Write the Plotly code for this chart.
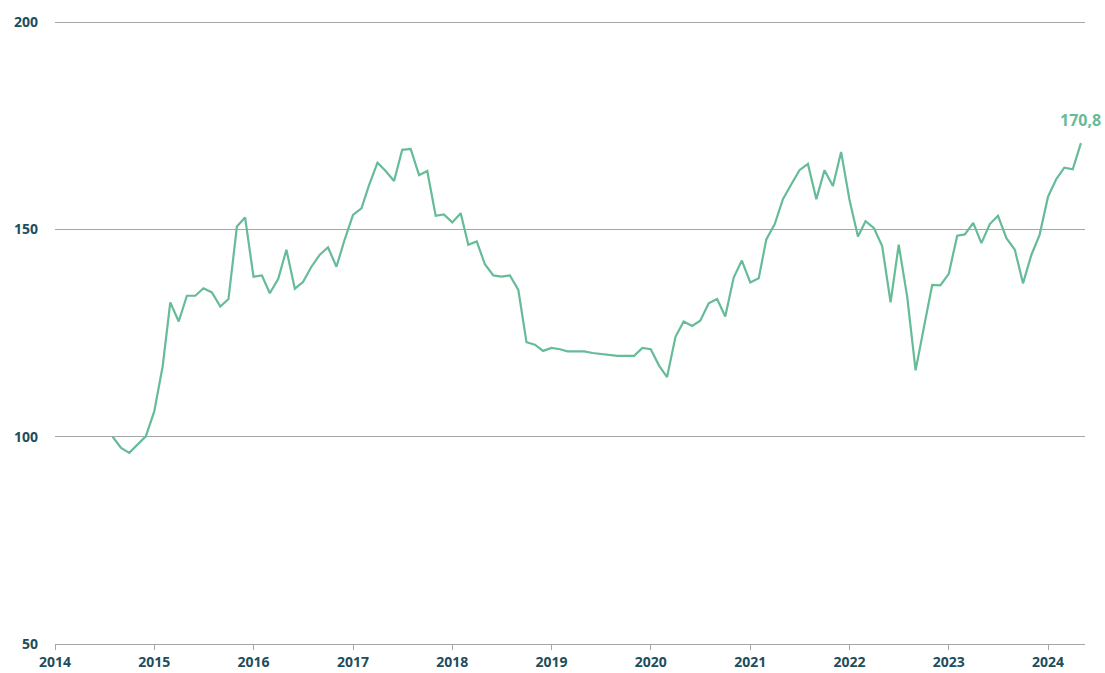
import pandas as pd
import plotly.graph_objects as go

start_month = "2014-08-01"
values = [
    100.0, 97.3, 96.1, 98.1, 100.1, 106.1, 117.0, 132.4, 127.8, 134.0,
    134.0, 135.8, 134.8, 131.4, 133.2, 150.7, 152.9, 138.6, 138.9, 134.6,
    138.1, 145.1, 135.7, 137.3, 141.0, 143.9, 145.7, 141.0, 147.5, 153.5,
    155.1, 160.7, 166.1, 164.1, 161.7, 169.2, 169.4, 163.1, 164.1, 153.3,
    153.6, 151.7, 153.9, 146.3, 147.1, 141.6, 138.9, 138.6, 138.9, 135.4,
    122.8, 122.2, 120.7, 121.4, 121.1, 120.6, 120.6, 120.6, 120.2, 120.0,
    119.8, 119.5, 119.5, 119.5, 121.4, 121.1, 117.1, 114.4, 124.1, 127.8,
    126.7, 128.0, 132.2, 133.2, 129.0, 138.4, 142.5, 137.2, 138.2, 147.6,
    151.3, 157.3, 160.9, 164.3, 165.8, 157.3, 164.3, 160.5, 168.7, 157.1,
    148.3, 152.0, 150.3, 146.0, 132.4, 146.3, 133.8, 116.0, 126.2, 136.6,
    136.5, 139.3, 148.5, 148.8, 151.6, 146.7, 151.3, 153.3, 147.9, 145.1,
    137.0, 143.9, 148.7, 157.9, 162.2, 164.9, 164.5, 170.8,
]
dates = pd.date_range(start_month, periods=len(values), freq="MS")

year_ticks = [f"{y}-01-01" for y in range(2014, 2025)]
year_labels = [str(y) for y in range(2014, 2025)]
y_ticks = [50, 100, 150, 200]

line_color = "#66bb98"
text_color = "#1e4d5c"
grid_color = "#a6a6a6"

fig = go.Figure()
fig.add_trace(go.Scatter(
    x=dates, y=values, mode="lines",
    line=dict(color=line_color, width=2.2),
    hoverinfo="skip", showlegend=False,
))

last_label = f"{values[-1]:.1f}".replace(".", ",")
fig.add_annotation(
    x=dates[-1], y=values[-1], text=last_label, showarrow=False,
    xanchor="center", yanchor="bottom", yshift=10,
    font=dict(family="Noto Sans", size=16, color=line_color, weight="bold"),
)

fig.update_layout(
    width=1105, height=673,
    margin=dict(l=55, r=20, t=18, b=29, autoexpand=False),
    paper_bgcolor="white", plot_bgcolor="white",
    font=dict(family="Noto Sans", size=14, color=text_color),
)
fig.update_xaxes(
    range=["2014-01-01", "2024-05-16"],
    tickvals=year_ticks, ticktext=year_labels,
    showgrid=False, zeroline=False, automargin=False,
    showline=True, linecolor=grid_color, linewidth=1.3,
    ticks="outside", ticklen=5, tickcolor=grid_color, tickwidth=1,
    tickfont=dict(family="Noto Sans", size=14, color=text_color, weight="bold"),
)
fig.update_yaxes(
    range=[50, 201], tickvals=y_ticks,
    showgrid=True, gridcolor=grid_color, gridwidth=1,
    zeroline=False, showline=False, ticks="", automargin=False,
    ticklabelstandoff=16,
    tickfont=dict(family="Noto Sans", size=14, color=text_color, weight="bold"),
)

fig.write_html(
    "out.html",
    config={"displayModeBar": False},
    post_script="document.body.style.margin='0';document.body.style.overflow='hidden';",
)
